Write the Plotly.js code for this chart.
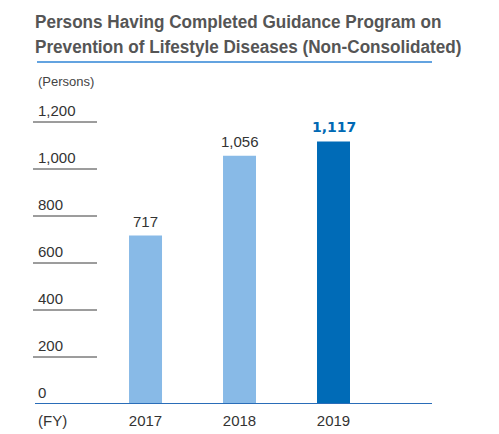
<!DOCTYPE html>
<html>
<head>
<meta charset="utf-8">
<script src="https://cdn.plot.ly/plotly-3.0.1.min.js"></script>
<style>html,body{margin:0;padding:0;background:#fff;}#chart{width:499px;height:434px;}</style>
</head>
<body>
<div id="chart"></div>
<script>
const years = ['2017', '2018', '2019'];
const persons = [717, 1056, 1117];
const valueLabels = ['717', '1,056', '1,117'];
const barColors = ['#88bae7', '#88bae7', '#006bb7'];
const yTicks = [0, 200, 400, 600, 800, 1000, 1200];
const yTickLabels = ['0', '200', '400', '600', '800', '1,000', '1,200'];

const W = 499, H = 434;
const mL = 35, mR = 67, mT = 100, mB = 30;
const plotH = H - mT - mB;          // 304
const pxPerUnit = 282 / 1200;
const yMax = plotH / pxPerUnit;
const plotW = W - mL - mR;          // 397

const bodyFont = 'Liberation Sans, Helvetica, Arial, sans-serif';

const shapes = [];
const annotations = [];

yTicks.forEach((v, i) => {
  if (v !== 0) {
    shapes.push({type: 'line', xref: 'paper', yref: 'y',
      x0: -2 / plotW, x1: 62 / plotW, y0: v, y1: v,
      line: {color: '#3a3a3a', width: 1}});
  }
  annotations.push({xref: 'paper', yref: 'y', x: 1 / plotW, y: v,
    xanchor: 'left', yanchor: 'middle', yshift: 12, showarrow: false,
    text: yTickLabels[i], font: {family: bodyFont, size: 15, color: '#333'}});
});

shapes.push({type: 'line', xref: 'paper', yref: 'y', x0: 0, x1: 1, y0: 0, y1: 0,
  layer: 'above', line: {color: '#2a6db8', width: 2}});

shapes.push({type: 'line', xref: 'paper', yref: 'paper',
  x0: 2 / plotW, x1: 1, y0: (404 - 62) / plotH, y1: (404 - 62) / plotH,
  line: {color: '#2f84d6', width: 1.5}});

years.forEach((yr, i) => {
  const last = i === years.length - 1;
  annotations.push({xref: 'x', yref: 'y', x: i, y: persons[i],
    xanchor: 'center', yanchor: 'middle', yshift: last ? 15 : 14, showarrow: false,
    text: last ? '<b>' + valueLabels[i] + '</b>' : valueLabels[i],
    font: last ? {family: 'DejaVu Sans, sans-serif', size: 14, color: '#0069b4'}
               : {family: bodyFont, size: 15, color: '#333'}});
});

annotations.push({xref: 'paper', yref: 'paper', x: 1 / plotW, y: (404 - 81) / plotH,
  xanchor: 'left', yanchor: 'middle', showarrow: false, text: '(Persons)',
  font: {family: bodyFont, size: 13, color: '#444'}});
annotations.push({xref: 'paper', yref: 'paper', x: 1 / plotW, y: (404 - 420) / plotH,
  xanchor: 'left', yanchor: 'middle', showarrow: false, text: '(FY)',
  font: {family: bodyFont, size: 15, color: '#333'}});

const trace = {
  type: 'bar', x: years, y: persons,
  marker: {color: barColors, line: {width: 0}},
  hoverinfo: 'skip'
};

const layout = {
  width: W, height: H,
  margin: {l: mL, r: mR, t: mT, b: mB, pad: 0},
  paper_bgcolor: '#fff', plot_bgcolor: '#fff',
  showlegend: false,
  bargap: 0.649,
  title: {
    text: 'Persons Having Completed Guidance Program on<br>Prevention of Lifestyle Diseases (Non-Consolidated)',
    xref: 'paper', x: 0, xanchor: 'left',
    yref: 'container', y: 1 - 28 / H, yanchor: 'top',
    font: {family: 'Liberation Sans, Arial, sans-serif', size: 19, color: '#555', weight: 700}
  },
  xaxis: {
    type: 'category', range: [-1.176, 3.048], fixedrange: true,
    showgrid: false, zeroline: false, showline: false, ticks: '',
    tickfont: {family: bodyFont, size: 15, color: '#333'},
    ticklabelstandoff: 6
  },
  yaxis: {
    range: [0, yMax], fixedrange: true,
    showgrid: false, zeroline: false, showline: false, showticklabels: false, ticks: ''
  },
  shapes: shapes,
  annotations: annotations
};

Plotly.newPlot('chart', [trace], layout, {displayModeBar: false, staticPlot: true}).then(gd => {
  // condense the title horizontally (reference uses a condensed face)
  const t = gd.querySelector('.gtitle');
  if (!t) return;
  const bb = t.getBBox();
  const targetW = 427;
  if (bb.width > 0) {
    const s = targetW / bb.width;
    const x0 = bb.x;
    const prev = t.getAttribute('transform') || '';
    t.setAttribute('transform', prev + ' translate(' + x0 + ',0) scale(' + s + ',1) translate(' + (-x0) + ',0)');
  }
});
</script>
</body>
</html>
